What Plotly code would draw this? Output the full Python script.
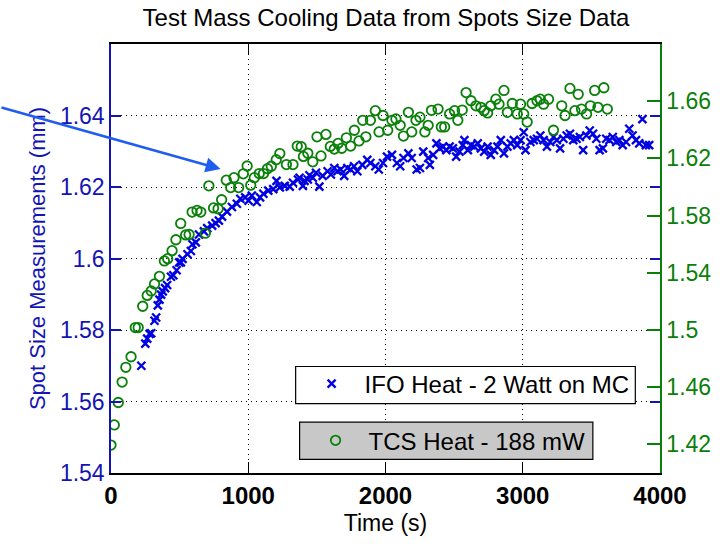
import plotly.graph_objects as go

# ---------------- data ----------------
tcs_time = [0, 24, 53, 81, 108, 146, 177, 198, 231, 264, 293, 317, 353, 389, 413, 445, 473, 508, 544, 569,
            591, 627, 654, 687, 713, 747, 780, 806, 840, 872, 896, 930, 964, 992, 1018, 1044, 1080, 1111, 1140, 1168,
            1204, 1230, 1278, 1326, 1357, 1386, 1402, 1434, 1470, 1501, 1530, 1566, 1598, 1627, 1654, 1681, 1715, 1746, 1773, 1807,
            1834, 1857, 1890, 1926, 1953, 1982, 2016, 2047, 2076, 2107, 2131, 2167, 2191, 2222, 2251, 2287, 2311, 2335, 2383, 2407,
            2431, 2467, 2503, 2527, 2559, 2587, 2623, 2659, 2695, 2719, 2744, 2767, 2804, 2827, 2863, 2888, 2924, 2960, 2984, 3007,
            3032, 3068, 3104, 3128, 3152, 3188, 3224, 3284, 3308, 3344, 3380, 3404, 3428, 3465, 3493, 3524, 3548, 3591, 3616]
tcs_size = [1.4195, 1.4336, 1.4493, 1.4636, 1.4739, 1.4813, 1.5017, 1.5017, 1.5166, 1.5242, 1.5273, 1.5322, 1.5375, 1.5483, 1.5499, 1.5555, 1.5631, 1.5745, 1.5665, 1.5668,
            1.5825, 1.5836, 1.5825, 1.5677, 1.6008, 1.5854, 1.5848, 1.5911, 1.6048, 1.5996, 1.6065, 1.5996, 1.6092, 1.6147, 1.6013, 1.6065, 1.6094, 1.6094, 1.6128, 1.6145,
            1.6191, 1.6234, 1.6157, 1.6157, 1.6286, 1.6282, 1.6214, 1.6236, 1.6176, 1.6351, 1.6217, 1.6368, 1.6284, 1.6265, 1.6305, 1.6271, 1.6344, 1.6286, 1.6397, 1.6322,
            1.6466, 1.6351, 1.6466, 1.6534, 1.6385, 1.6500, 1.6397, 1.6466, 1.6476, 1.6431, 1.6356, 1.6522, 1.6385, 1.6466, 1.6488, 1.6385, 1.6431, 1.6536, 1.6545, 1.6420,
            1.6420, 1.6511, 1.6534, 1.6466, 1.6538, 1.6660, 1.6603, 1.6568, 1.6557, 1.6534, 1.6518, 1.6568, 1.6614, 1.6579, 1.6675, 1.6522, 1.6584, 1.6511, 1.6579, 1.6511,
            1.6454, 1.6584, 1.6603, 1.6614, 1.6579, 1.6614, 1.6397, 1.6568, 1.6500, 1.6689, 1.6534, 1.6648, 1.6545, 1.6511, 1.6568, 1.6675, 1.6557, 1.6694, 1.6545]

ifo_time = [221, 250, 264, 281, 293, 317, 329, 341, 353, 365, 377, 394, 409, 437, 454, 478, 497, 509, 521, 557,
            582, 593, 618, 641, 677, 701, 737, 762, 786, 809, 845, 881, 917, 942, 978, 1002, 1026, 1062, 1086, 1110,
            1146, 1182, 1206, 1230, 1266, 1302, 1326, 1362, 1374, 1398, 1410, 1434, 1446, 1470, 1494, 1518, 1542, 1578, 1602, 1627,
            1650, 1674, 1699, 1722, 1746, 1771, 1795, 1831, 1867, 1890, 1926, 1951, 1982, 2011, 2047, 2083, 2107, 2131, 2167, 2191,
            2227, 2251, 2275, 2311, 2323, 2347, 2371, 2395, 2419, 2443, 2467, 2491, 2515, 2539, 2563, 2575, 2600, 2623, 2647, 2672,
            2695, 2719, 2744, 2767, 2791, 2816, 2840, 2863, 2888, 2912, 2935, 2960, 2984, 3007, 3020, 3056, 3080, 3104, 3128, 3152,
            3176, 3200, 3224, 3248, 3272, 3296, 3320, 3344, 3368, 3392, 3416, 3440, 3464, 3488, 3512, 3536, 3560, 3584, 3608, 3632,
            3656, 3681, 3704, 3728, 3753, 3776, 3800, 3825, 3849, 3872, 3897, 3921]
ifo_size = [1.5700, 1.5762, 1.5776, 1.5789, 1.5791, 1.5826, 1.5835, 1.5869, 1.5885, 1.5899, 1.5908, 1.5917, 1.5926, 1.5949, 1.5953, 1.5967, 1.5989, 1.5989, 1.5999, 1.6012,
            1.6021, 1.6040, 1.6045, 1.6067, 1.6076, 1.6085, 1.6092, 1.6099, 1.6106, 1.6117, 1.6131, 1.6144, 1.6153, 1.6167, 1.6171, 1.6162, 1.6176, 1.6158, 1.6171, 1.6181,
            1.6190, 1.6194, 1.6217, 1.6199, 1.6203, 1.6201, 1.6212, 1.6221, 1.6226, 1.6203, 1.6217, 1.6221, 1.6233, 1.6226, 1.6240, 1.6201, 1.6231, 1.6244, 1.6235, 1.6253,
            1.6244, 1.6249, 1.6231, 1.6253, 1.6249, 1.6258, 1.6244, 1.6262, 1.6276, 1.6267, 1.6258, 1.6249, 1.6267, 1.6285, 1.6290, 1.6267, 1.6258, 1.6281, 1.6294, 1.6281,
            1.6249, 1.6253, 1.6299, 1.6281, 1.6262, 1.6290, 1.6322, 1.6308, 1.6313, 1.6303, 1.6313, 1.6308, 1.6285, 1.6299, 1.6317, 1.6331, 1.6303, 1.6317, 1.6313, 1.6322,
            1.6308, 1.6299, 1.6313, 1.6290, 1.6303, 1.6313, 1.6331, 1.6294, 1.6313, 1.6322, 1.6331, 1.6317, 1.6331, 1.6353, 1.6303, 1.6326, 1.6331, 1.6335, 1.6344, 1.6331,
            1.6313, 1.6326, 1.6340, 1.6331, 1.6308, 1.6335, 1.6344, 1.6349, 1.6331, 1.6335, 1.6340, 1.6303, 1.6344, 1.6358, 1.6349, 1.6335, 1.6303, 1.6308, 1.6335, 1.6331,
            1.6340, 1.6326, 1.6331, 1.6317, 1.6326, 1.6363, 1.6344, 1.6331, 1.6322, 1.6390, 1.6317, 1.6317]

assert len(tcs_time) == len(tcs_size), (len(tcs_time), len(tcs_size))
assert len(ifo_time) == len(ifo_size), (len(ifo_time), len(ifo_size))

x_ticks = [0, 1000, 2000, 3000, 4000]
left_ticks = [1.54, 1.56, 1.58, 1.60, 1.62, 1.64]
left_labels = ["1.54", "1.56", "1.58", "1.6", "1.62", "1.64"]
right_ticks = [1.42, 1.46, 1.50, 1.54, 1.58, 1.62, 1.66]
right_labels = ["1.42", "1.46", "1.5", "1.54", "1.58", "1.62", "1.66"]

BLUE = "#0000e0"
AXBLUE = "#1414b4"
GREEN = "#0a800a"
FONT = "Liberation Sans, Arial, Helvetica, sans-serif"

fig = go.Figure()
fig.add_trace(go.Scatter(
    x=ifo_time, y=ifo_size, mode="markers", name="IFO Heat - 2 Watt on MC",
    marker=dict(symbol="x-thin-open", size=8, line=dict(color=BLUE, width=2.3), color=BLUE),
    legend="legend", yaxis="y", showlegend=True))
fig.add_trace(go.Scatter(
    x=tcs_time, y=tcs_size, mode="markers", name="TCS Heat - 188 mW",
    marker=dict(symbol="circle-open", size=9.5, line=dict(color=GREEN, width=1.8), color=GREEN),
    legend="legend2", yaxis="y2", showlegend=True))

W, H = 723, 544
L, R, T, B = 111, 56, 44, 61
pw, ph = W - L - R, H - T - B

def px(xp):
    return (xp - L) / pw

def py(yp):
    return (H - B - yp) / ph

fig.update_layout(
    width=W, height=H,
    showlegend=True,
    margin=dict(l=L, r=R, t=T, b=B, pad=0),
    paper_bgcolor="white", plot_bgcolor="white",
    font=dict(family=FONT, color="black"),
    title=dict(text="Test Mass Cooling Data from Spots Size Data", xref="container", x=386 / W, xanchor="center",
               y=1 - 18 / H, yanchor="middle", font=dict(size=24, color="black")),
    xaxis=dict(range=[0, 4000], tickvals=x_ticks, ticktext=[str(v) for v in x_ticks],
               ticks="inside", ticklen=11, tickwidth=1, tickcolor="black",
               showline=True, linecolor="black", linewidth=2, mirror="ticks",
               showgrid=True, gridcolor="black", gridwidth=1, griddash="1px,4px",
               zeroline=False, tickfont=dict(size=24, color="black", weight="bold"),
               title=dict(text="Time (s)", font=dict(size=23, color="black"), standoff=7)),
    yaxis=dict(range=[1.54, 1.66], tickvals=left_ticks, ticktext=left_labels,
               ticks="inside", ticklen=10, tickwidth=1.5, tickcolor=AXBLUE,
               showline=True, linecolor=AXBLUE, linewidth=1.5, mirror="ticks",
               showgrid=True, gridcolor="black", gridwidth=1, griddash="1px,4px",
               zeroline=False, tickfont=dict(size=23, color=AXBLUE),
               title=dict(text="Spot Size Measurements (mm)", font=dict(size=22, color=AXBLUE), standoff=8)),
    yaxis2=dict(range=[1.40, 1.70], tickvals=right_ticks, ticktext=right_labels,
                overlaying="y", side="right", anchor="x",
                ticks="inside", ticklen=13, tickwidth=1.5, tickcolor=GREEN,
                showline=True, linecolor=GREEN, linewidth=1.5,
                showgrid=False, zeroline=False, tickfont=dict(size=23, color=GREEN)),
    legend=dict(x=px(301), xanchor="left", y=py(392), yanchor="middle", visible=True,
                bgcolor="rgba(0,0,0,0)", borderwidth=0, itemwidth=56,
                font=dict(size=24, color="black"), tracegroupgap=0),
    legend2=dict(x=px(305), xanchor="left", y=py(450), yanchor="middle", visible=True,
                 bgcolor="rgba(0,0,0,0)", borderwidth=0, itemwidth=56,
                 font=dict(size=24, color="black"), tracegroupgap=0),
    shapes=[
        dict(type="rect", xref="paper", yref="paper", x0=px(298), x1=px(642), y0=py(412), y1=py(374),
             fillcolor="white", line=dict(color="black", width=1.2), layer="above"),
        dict(type="rect", xref="paper", yref="paper", x0=px(302), x1=px(599), y0=py(469), y1=py(431),
             fillcolor="#c8c8c8", line=dict(color="black", width=1.2), layer="above"),
    ],
    annotations=[
        dict(x=px(222), y=py(172), xref="paper", yref="paper", text="", showarrow=True,
             ax=-222, ay=-62, axref="pixel", ayref="pixel",
             arrowhead=2, arrowsize=1.2, arrowwidth=2.5, arrowcolor="#1f5cf0", standoff=0, startstandoff=0),
    ],
)

fig.write_html("out.html")
